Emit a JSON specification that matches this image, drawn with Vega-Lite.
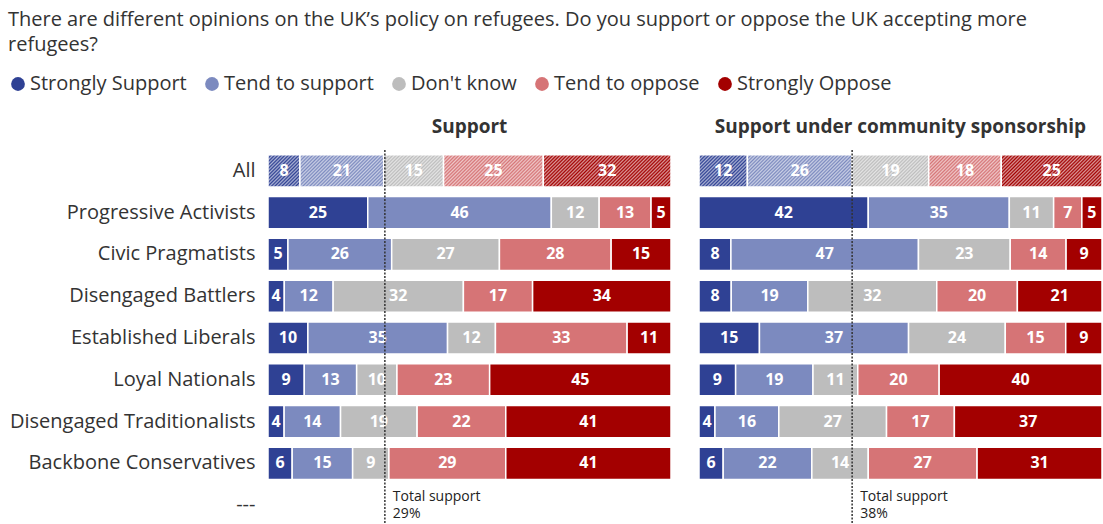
{
  "$schema": "https://vega.github.io/schema/vega-lite/v6.json",
  "background": "white",
  "padding": {"left": 8, "top": 10, "right": 2, "bottom": 0},
  "title": {
    "text": ["There are different opinions on the UK’s policy on refugees. Do you support or oppose the UK accepting more", "refugees?"],
    "anchor": "start", "frame": "bounds", "fontSize": 20, "fontWeight": "normal", "color": "#333333", "lineHeight": 25, "offset": 19, "font": "Open Sans"
  },
  "config": {
    "font": "Open Sans",
    "view": {"stroke": null},
    "legend": {"labelFont": "Open Sans"},
    "header": {"labelFont": "Open Sans"}
  },
  "data": {"values": [
    {"panel": "Support", "group": "All", "response": "Strongly Support", "value": 8},
    {"panel": "Support", "group": "All", "response": "Tend to support", "value": 21},
    {"panel": "Support", "group": "All", "response": "Don't know", "value": 15},
    {"panel": "Support", "group": "All", "response": "Tend to oppose", "value": 25},
    {"panel": "Support", "group": "All", "response": "Strongly Oppose", "value": 32},
    {"panel": "Support", "group": "Progressive Activists", "response": "Strongly Support", "value": 25},
    {"panel": "Support", "group": "Progressive Activists", "response": "Tend to support", "value": 46},
    {"panel": "Support", "group": "Progressive Activists", "response": "Don't know", "value": 12},
    {"panel": "Support", "group": "Progressive Activists", "response": "Tend to oppose", "value": 13},
    {"panel": "Support", "group": "Progressive Activists", "response": "Strongly Oppose", "value": 5},
    {"panel": "Support", "group": "Civic Pragmatists", "response": "Strongly Support", "value": 5},
    {"panel": "Support", "group": "Civic Pragmatists", "response": "Tend to support", "value": 26},
    {"panel": "Support", "group": "Civic Pragmatists", "response": "Don't know", "value": 27},
    {"panel": "Support", "group": "Civic Pragmatists", "response": "Tend to oppose", "value": 28},
    {"panel": "Support", "group": "Civic Pragmatists", "response": "Strongly Oppose", "value": 15},
    {"panel": "Support", "group": "Disengaged Battlers", "response": "Strongly Support", "value": 4},
    {"panel": "Support", "group": "Disengaged Battlers", "response": "Tend to support", "value": 12},
    {"panel": "Support", "group": "Disengaged Battlers", "response": "Don't know", "value": 32},
    {"panel": "Support", "group": "Disengaged Battlers", "response": "Tend to oppose", "value": 17},
    {"panel": "Support", "group": "Disengaged Battlers", "response": "Strongly Oppose", "value": 34},
    {"panel": "Support", "group": "Established Liberals", "response": "Strongly Support", "value": 10},
    {"panel": "Support", "group": "Established Liberals", "response": "Tend to support", "value": 35},
    {"panel": "Support", "group": "Established Liberals", "response": "Don't know", "value": 12},
    {"panel": "Support", "group": "Established Liberals", "response": "Tend to oppose", "value": 33},
    {"panel": "Support", "group": "Established Liberals", "response": "Strongly Oppose", "value": 11},
    {"panel": "Support", "group": "Loyal Nationals", "response": "Strongly Support", "value": 9},
    {"panel": "Support", "group": "Loyal Nationals", "response": "Tend to support", "value": 13},
    {"panel": "Support", "group": "Loyal Nationals", "response": "Don't know", "value": 10},
    {"panel": "Support", "group": "Loyal Nationals", "response": "Tend to oppose", "value": 23},
    {"panel": "Support", "group": "Loyal Nationals", "response": "Strongly Oppose", "value": 45},
    {"panel": "Support", "group": "Disengaged Traditionalists", "response": "Strongly Support", "value": 4},
    {"panel": "Support", "group": "Disengaged Traditionalists", "response": "Tend to support", "value": 14},
    {"panel": "Support", "group": "Disengaged Traditionalists", "response": "Don't know", "value": 19},
    {"panel": "Support", "group": "Disengaged Traditionalists", "response": "Tend to oppose", "value": 22},
    {"panel": "Support", "group": "Disengaged Traditionalists", "response": "Strongly Oppose", "value": 41},
    {"panel": "Support", "group": "Backbone Conservatives", "response": "Strongly Support", "value": 6},
    {"panel": "Support", "group": "Backbone Conservatives", "response": "Tend to support", "value": 15},
    {"panel": "Support", "group": "Backbone Conservatives", "response": "Don't know", "value": 9},
    {"panel": "Support", "group": "Backbone Conservatives", "response": "Tend to oppose", "value": 29},
    {"panel": "Support", "group": "Backbone Conservatives", "response": "Strongly Oppose", "value": 41},
    {"panel": "Support under community sponsorship", "group": "All", "response": "Strongly Support", "value": 12},
    {"panel": "Support under community sponsorship", "group": "All", "response": "Tend to support", "value": 26},
    {"panel": "Support under community sponsorship", "group": "All", "response": "Don't know", "value": 19},
    {"panel": "Support under community sponsorship", "group": "All", "response": "Tend to oppose", "value": 18},
    {"panel": "Support under community sponsorship", "group": "All", "response": "Strongly Oppose", "value": 25},
    {"panel": "Support under community sponsorship", "group": "Progressive Activists", "response": "Strongly Support", "value": 42},
    {"panel": "Support under community sponsorship", "group": "Progressive Activists", "response": "Tend to support", "value": 35},
    {"panel": "Support under community sponsorship", "group": "Progressive Activists", "response": "Don't know", "value": 11},
    {"panel": "Support under community sponsorship", "group": "Progressive Activists", "response": "Tend to oppose", "value": 7},
    {"panel": "Support under community sponsorship", "group": "Progressive Activists", "response": "Strongly Oppose", "value": 5},
    {"panel": "Support under community sponsorship", "group": "Civic Pragmatists", "response": "Strongly Support", "value": 8},
    {"panel": "Support under community sponsorship", "group": "Civic Pragmatists", "response": "Tend to support", "value": 47},
    {"panel": "Support under community sponsorship", "group": "Civic Pragmatists", "response": "Don't know", "value": 23},
    {"panel": "Support under community sponsorship", "group": "Civic Pragmatists", "response": "Tend to oppose", "value": 14},
    {"panel": "Support under community sponsorship", "group": "Civic Pragmatists", "response": "Strongly Oppose", "value": 9},
    {"panel": "Support under community sponsorship", "group": "Disengaged Battlers", "response": "Strongly Support", "value": 8},
    {"panel": "Support under community sponsorship", "group": "Disengaged Battlers", "response": "Tend to support", "value": 19},
    {"panel": "Support under community sponsorship", "group": "Disengaged Battlers", "response": "Don't know", "value": 32},
    {"panel": "Support under community sponsorship", "group": "Disengaged Battlers", "response": "Tend to oppose", "value": 20},
    {"panel": "Support under community sponsorship", "group": "Disengaged Battlers", "response": "Strongly Oppose", "value": 21},
    {"panel": "Support under community sponsorship", "group": "Established Liberals", "response": "Strongly Support", "value": 15},
    {"panel": "Support under community sponsorship", "group": "Established Liberals", "response": "Tend to support", "value": 37},
    {"panel": "Support under community sponsorship", "group": "Established Liberals", "response": "Don't know", "value": 24},
    {"panel": "Support under community sponsorship", "group": "Established Liberals", "response": "Tend to oppose", "value": 15},
    {"panel": "Support under community sponsorship", "group": "Established Liberals", "response": "Strongly Oppose", "value": 9},
    {"panel": "Support under community sponsorship", "group": "Loyal Nationals", "response": "Strongly Support", "value": 9},
    {"panel": "Support under community sponsorship", "group": "Loyal Nationals", "response": "Tend to support", "value": 19},
    {"panel": "Support under community sponsorship", "group": "Loyal Nationals", "response": "Don't know", "value": 11},
    {"panel": "Support under community sponsorship", "group": "Loyal Nationals", "response": "Tend to oppose", "value": 20},
    {"panel": "Support under community sponsorship", "group": "Loyal Nationals", "response": "Strongly Oppose", "value": 40},
    {"panel": "Support under community sponsorship", "group": "Disengaged Traditionalists", "response": "Strongly Support", "value": 4},
    {"panel": "Support under community sponsorship", "group": "Disengaged Traditionalists", "response": "Tend to support", "value": 16},
    {"panel": "Support under community sponsorship", "group": "Disengaged Traditionalists", "response": "Don't know", "value": 27},
    {"panel": "Support under community sponsorship", "group": "Disengaged Traditionalists", "response": "Tend to oppose", "value": 17},
    {"panel": "Support under community sponsorship", "group": "Disengaged Traditionalists", "response": "Strongly Oppose", "value": 37},
    {"panel": "Support under community sponsorship", "group": "Backbone Conservatives", "response": "Strongly Support", "value": 6},
    {"panel": "Support under community sponsorship", "group": "Backbone Conservatives", "response": "Tend to support", "value": 22},
    {"panel": "Support under community sponsorship", "group": "Backbone Conservatives", "response": "Don't know", "value": 14},
    {"panel": "Support under community sponsorship", "group": "Backbone Conservatives", "response": "Tend to oppose", "value": 27},
    {"panel": "Support under community sponsorship", "group": "Backbone Conservatives", "response": "Strongly Oppose", "value": 31}
  ]},
  "transform": [
    {"calculate": "indexof(['Strongly Support','Tend to support','Don\\'t know','Tend to oppose','Strongly Oppose'], datum.response)", "as": "rank"},
    {"stack": "value", "groupby": ["panel", "group"], "sort": [{"field": "rank", "order": "ascending"}], "offset": "normalize", "as": ["x0", "x1"]},
    {"calculate": "(datum.x0 + datum.x1) / 2", "as": "mid"}
  ],
  "facet": {
    "column": {
      "field": "panel", "type": "nominal",
      "sort": ["Support", "Support under community sponsorship"],
      "header": {"title": null, "labelFontSize": 19, "labelFontWeight": "bold", "labelColor": "#333333", "labelPadding": 12}
    }
  },
  "spacing": 26,
  "spec": {
    "width": 403,
    "height": 376,
    "layer": [
      {
        "mark": {"type": "bar", "stroke": "white", "strokeWidth": 1.5},
        "encoding": {
          "y": {
            "field": "group", "type": "nominal",
            "scale": {"domain": ["All", "Progressive Activists", "Civic Pragmatists", "Disengaged Battlers", "Established Liberals", "Loyal Nationals", "Disengaged Traditionalists", "Backbone Conservatives", "---"], "paddingInner": 0.23, "paddingOuter": 0.115},
            "axis": {"title": null, "ticks": false, "domain": false, "grid": false, "labelFontSize": 20, "labelColor": "#333333", "labelPadding": 12, "labelLimit": 400, "labelFont": "Open Sans"}
          },
          "x": {"field": "x0", "type": "quantitative", "scale": {"domain": [0, 1], "nice": false}, "axis": null},
          "x2": {"field": "x1"},
          "color": {
            "field": "response", "type": "nominal",
            "scale": {
              "domain": ["Strongly Support", "Tend to support", "Don't know", "Tend to oppose", "Strongly Oppose"],
              "range": ["#2F4194", "#7C8ABF", "#BDBDBD", "#D67476", "#A30000"]
            },
            "legend": {"orient": "none", "legendX": -260, "legendY": -76, "direction": "horizontal", "columns": 5, "title": null, "symbolType": "circle", "symbolSize": 190, "symbolStrokeWidth": 0, "symbolOpacity": 1, "labelFontSize": 20, "labelColor": "#333333", "columnPadding": 15, "labelOffset": 2}
          }
        }
      },
      {
        "transform": [
          {"filter": "datum.group === 'All'"},
          {"aggregate": [{"op": "min", "field": "x0", "as": "lo"}, {"op": "max", "field": "x1", "as": "hi"}], "groupby": ["panel", "group"]}
        ],
        "mark": {"type": "bar", "fill": {"gradient": "linear", "x1": 0, "y1": 0, "x2": 1.07298, "y2": 0.08566, "stops": [
          {"offset":0,"color":"#fff0"},{"offset":0.004,"color":"#fff9"},{"offset":0.008,"color":"#fff0"},{"offset":0.012,"color":"#fff9"},{"offset":0.016,"color":"#fff0"},{"offset":0.02,"color":"#fff9"},{"offset":0.024,"color":"#fff0"},{"offset":0.028,"color":"#fff9"},{"offset":0.032,"color":"#fff0"},{"offset":0.036,"color":"#fff9"},
          {"offset":0.04,"color":"#fff0"},{"offset":0.044,"color":"#fff9"},{"offset":0.048,"color":"#fff0"},{"offset":0.052,"color":"#fff9"},{"offset":0.056,"color":"#fff0"},{"offset":0.06,"color":"#fff9"},{"offset":0.064,"color":"#fff0"},{"offset":0.068,"color":"#fff9"},{"offset":0.072,"color":"#fff0"},{"offset":0.076,"color":"#fff9"},
          {"offset":0.08,"color":"#fff0"},{"offset":0.084,"color":"#fff9"},{"offset":0.088,"color":"#fff0"},{"offset":0.092,"color":"#fff9"},{"offset":0.096,"color":"#fff0"},{"offset":0.1,"color":"#fff9"},{"offset":0.104,"color":"#fff0"},{"offset":0.108,"color":"#fff9"},{"offset":0.112,"color":"#fff0"},{"offset":0.116,"color":"#fff9"},
          {"offset":0.12,"color":"#fff0"},{"offset":0.124,"color":"#fff9"},{"offset":0.128,"color":"#fff0"},{"offset":0.132,"color":"#fff9"},{"offset":0.136,"color":"#fff0"},{"offset":0.14,"color":"#fff9"},{"offset":0.144,"color":"#fff0"},{"offset":0.148,"color":"#fff9"},{"offset":0.152,"color":"#fff0"},{"offset":0.156,"color":"#fff9"},
          {"offset":0.16,"color":"#fff0"},{"offset":0.164,"color":"#fff9"},{"offset":0.168,"color":"#fff0"},{"offset":0.172,"color":"#fff9"},{"offset":0.176,"color":"#fff0"},{"offset":0.18,"color":"#fff9"},{"offset":0.184,"color":"#fff0"},{"offset":0.188,"color":"#fff9"},{"offset":0.192,"color":"#fff0"},{"offset":0.196,"color":"#fff9"},
          {"offset":0.2,"color":"#fff0"},{"offset":0.204,"color":"#fff9"},{"offset":0.208,"color":"#fff0"},{"offset":0.212,"color":"#fff9"},{"offset":0.216,"color":"#fff0"},{"offset":0.22,"color":"#fff9"},{"offset":0.224,"color":"#fff0"},{"offset":0.228,"color":"#fff9"},{"offset":0.232,"color":"#fff0"},{"offset":0.236,"color":"#fff9"},
          {"offset":0.24,"color":"#fff0"},{"offset":0.244,"color":"#fff9"},{"offset":0.248,"color":"#fff0"},{"offset":0.252,"color":"#fff9"},{"offset":0.256,"color":"#fff0"},{"offset":0.26,"color":"#fff9"},{"offset":0.264,"color":"#fff0"},{"offset":0.268,"color":"#fff9"},{"offset":0.272,"color":"#fff0"},{"offset":0.276,"color":"#fff9"},
          {"offset":0.28,"color":"#fff0"},{"offset":0.284,"color":"#fff9"},{"offset":0.288,"color":"#fff0"},{"offset":0.292,"color":"#fff9"},{"offset":0.296,"color":"#fff0"},{"offset":0.3,"color":"#fff9"},{"offset":0.304,"color":"#fff0"},{"offset":0.308,"color":"#fff9"},{"offset":0.312,"color":"#fff0"},{"offset":0.316,"color":"#fff9"},
          {"offset":0.32,"color":"#fff0"},{"offset":0.324,"color":"#fff9"},{"offset":0.328,"color":"#fff0"},{"offset":0.332,"color":"#fff9"},{"offset":0.336,"color":"#fff0"},{"offset":0.34,"color":"#fff9"},{"offset":0.344,"color":"#fff0"},{"offset":0.348,"color":"#fff9"},{"offset":0.352,"color":"#fff0"},{"offset":0.356,"color":"#fff9"},
          {"offset":0.36,"color":"#fff0"},{"offset":0.364,"color":"#fff9"},{"offset":0.368,"color":"#fff0"},{"offset":0.372,"color":"#fff9"},{"offset":0.376,"color":"#fff0"},{"offset":0.38,"color":"#fff9"},{"offset":0.384,"color":"#fff0"},{"offset":0.388,"color":"#fff9"},{"offset":0.392,"color":"#fff0"},{"offset":0.396,"color":"#fff9"},
          {"offset":0.4,"color":"#fff0"},{"offset":0.404,"color":"#fff9"},{"offset":0.408,"color":"#fff0"},{"offset":0.412,"color":"#fff9"},{"offset":0.416,"color":"#fff0"},{"offset":0.42,"color":"#fff9"},{"offset":0.424,"color":"#fff0"},{"offset":0.428,"color":"#fff9"},{"offset":0.432,"color":"#fff0"},{"offset":0.436,"color":"#fff9"},
          {"offset":0.44,"color":"#fff0"},{"offset":0.444,"color":"#fff9"},{"offset":0.448,"color":"#fff0"},{"offset":0.452,"color":"#fff9"},{"offset":0.456,"color":"#fff0"},{"offset":0.46,"color":"#fff9"},{"offset":0.464,"color":"#fff0"},{"offset":0.468,"color":"#fff9"},{"offset":0.472,"color":"#fff0"},{"offset":0.476,"color":"#fff9"},
          {"offset":0.48,"color":"#fff0"},{"offset":0.484,"color":"#fff9"},{"offset":0.488,"color":"#fff0"},{"offset":0.492,"color":"#fff9"},{"offset":0.496,"color":"#fff0"},{"offset":0.5,"color":"#fff9"},{"offset":0.504,"color":"#fff0"},{"offset":0.508,"color":"#fff9"},{"offset":0.512,"color":"#fff0"},{"offset":0.516,"color":"#fff9"},
          {"offset":0.52,"color":"#fff0"},{"offset":0.524,"color":"#fff9"},{"offset":0.528,"color":"#fff0"},{"offset":0.532,"color":"#fff9"},{"offset":0.536,"color":"#fff0"},{"offset":0.54,"color":"#fff9"},{"offset":0.544,"color":"#fff0"},{"offset":0.548,"color":"#fff9"},{"offset":0.552,"color":"#fff0"},{"offset":0.556,"color":"#fff9"},
          {"offset":0.56,"color":"#fff0"},{"offset":0.564,"color":"#fff9"},{"offset":0.568,"color":"#fff0"},{"offset":0.572,"color":"#fff9"},{"offset":0.576,"color":"#fff0"},{"offset":0.58,"color":"#fff9"},{"offset":0.584,"color":"#fff0"},{"offset":0.588,"color":"#fff9"},{"offset":0.592,"color":"#fff0"},{"offset":0.596,"color":"#fff9"},
          {"offset":0.6,"color":"#fff0"},{"offset":0.604,"color":"#fff9"},{"offset":0.608,"color":"#fff0"},{"offset":0.612,"color":"#fff9"},{"offset":0.616,"color":"#fff0"},{"offset":0.62,"color":"#fff9"},{"offset":0.624,"color":"#fff0"},{"offset":0.628,"color":"#fff9"},{"offset":0.632,"color":"#fff0"},{"offset":0.636,"color":"#fff9"},
          {"offset":0.64,"color":"#fff0"},{"offset":0.644,"color":"#fff9"},{"offset":0.648,"color":"#fff0"},{"offset":0.652,"color":"#fff9"},{"offset":0.656,"color":"#fff0"},{"offset":0.66,"color":"#fff9"},{"offset":0.664,"color":"#fff0"},{"offset":0.668,"color":"#fff9"},{"offset":0.672,"color":"#fff0"},{"offset":0.676,"color":"#fff9"},
          {"offset":0.68,"color":"#fff0"},{"offset":0.684,"color":"#fff9"},{"offset":0.688,"color":"#fff0"},{"offset":0.692,"color":"#fff9"},{"offset":0.696,"color":"#fff0"},{"offset":0.7,"color":"#fff9"},{"offset":0.704,"color":"#fff0"},{"offset":0.708,"color":"#fff9"},{"offset":0.712,"color":"#fff0"},{"offset":0.716,"color":"#fff9"},
          {"offset":0.72,"color":"#fff0"},{"offset":0.724,"color":"#fff9"},{"offset":0.728,"color":"#fff0"},{"offset":0.732,"color":"#fff9"},{"offset":0.736,"color":"#fff0"},{"offset":0.74,"color":"#fff9"},{"offset":0.744,"color":"#fff0"},{"offset":0.748,"color":"#fff9"},{"offset":0.752,"color":"#fff0"},{"offset":0.756,"color":"#fff9"},
          {"offset":0.76,"color":"#fff0"},{"offset":0.764,"color":"#fff9"},{"offset":0.768,"color":"#fff0"},{"offset":0.772,"color":"#fff9"},{"offset":0.776,"color":"#fff0"},{"offset":0.78,"color":"#fff9"},{"offset":0.784,"color":"#fff0"},{"offset":0.788,"color":"#fff9"},{"offset":0.792,"color":"#fff0"},{"offset":0.796,"color":"#fff9"},
          {"offset":0.8,"color":"#fff0"},{"offset":0.804,"color":"#fff9"},{"offset":0.808,"color":"#fff0"},{"offset":0.812,"color":"#fff9"},{"offset":0.816,"color":"#fff0"},{"offset":0.82,"color":"#fff9"},{"offset":0.824,"color":"#fff0"},{"offset":0.828,"color":"#fff9"},{"offset":0.832,"color":"#fff0"},{"offset":0.836,"color":"#fff9"},
          {"offset":0.84,"color":"#fff0"},{"offset":0.844,"color":"#fff9"},{"offset":0.848,"color":"#fff0"},{"offset":0.852,"color":"#fff9"},{"offset":0.856,"color":"#fff0"},{"offset":0.86,"color":"#fff9"},{"offset":0.864,"color":"#fff0"},{"offset":0.868,"color":"#fff9"},{"offset":0.872,"color":"#fff0"},{"offset":0.876,"color":"#fff9"},
          {"offset":0.88,"color":"#fff0"},{"offset":0.884,"color":"#fff9"},{"offset":0.888,"color":"#fff0"},{"offset":0.892,"color":"#fff9"},{"offset":0.896,"color":"#fff0"},{"offset":0.9,"color":"#fff9"},{"offset":0.904,"color":"#fff0"},{"offset":0.908,"color":"#fff9"},{"offset":0.912,"color":"#fff0"},{"offset":0.916,"color":"#fff9"},
          {"offset":0.92,"color":"#fff0"},{"offset":0.924,"color":"#fff9"},{"offset":0.928,"color":"#fff0"},{"offset":0.932,"color":"#fff9"},{"offset":0.936,"color":"#fff0"},{"offset":0.94,"color":"#fff9"},{"offset":0.944,"color":"#fff0"},{"offset":0.948,"color":"#fff9"},{"offset":0.952,"color":"#fff0"},{"offset":0.956,"color":"#fff9"},
          {"offset":0.96,"color":"#fff0"},{"offset":0.964,"color":"#fff9"},{"offset":0.968,"color":"#fff0"},{"offset":0.972,"color":"#fff9"},{"offset":0.976,"color":"#fff0"},{"offset":0.98,"color":"#fff9"},{"offset":0.984,"color":"#fff0"},{"offset":0.988,"color":"#fff9"},{"offset":0.992,"color":"#fff0"},{"offset":0.996,"color":"#fff9"},
          {"offset":1,"color":"#fff0"}
        ]}},
        "encoding": {
          "y": {"field": "group", "type": "nominal"},
          "x": {"field": "lo", "type": "quantitative"},
          "x2": {"field": "hi"}
        }
      },
      {
        "mark": {"type": "text", "color": "white", "fontWeight": "bold", "fontSize": 16, "baseline": "middle", "font": "Open Sans"},
        "encoding": {
          "y": {"field": "group", "type": "nominal"},
          "x": {"field": "mid", "type": "quantitative"},
          "text": {"field": "value", "type": "quantitative"}
        }
      },
      {
        "transform": [
          {"filter": "datum.group === 'All' && datum.rank < 2"},
          {"aggregate": [{"op": "sum", "field": "value", "as": "total"}], "groupby": ["panel"]},
          {"calculate": "datum.total / 100", "as": "tx"},
          {"calculate": "'Total support\\n' + datum.total + '%'", "as": "lbl"}
        ],
        "layer": [
          {
            "mark": {"type": "rule", "color": "#333333", "strokeWidth": 1.5, "strokeDash": [2, 1.5]},
            "encoding": {"x": {"field": "tx", "type": "quantitative"}}
          },
          {
            "mark": {"type": "text", "align": "left", "dx": 8, "dy": -8, "baseline": "middle", "fontSize": 14, "lineBreak": "\n", "color": "#222222", "font": "Open Sans", "lineHeight": 17},
            "encoding": {
              "x": {"field": "tx", "type": "quantitative"},
              "y": {"datum": "---", "type": "nominal"},
              "text": {"field": "lbl", "type": "nominal"}
            }
          }
        ]
      }
    ]
  }
}
